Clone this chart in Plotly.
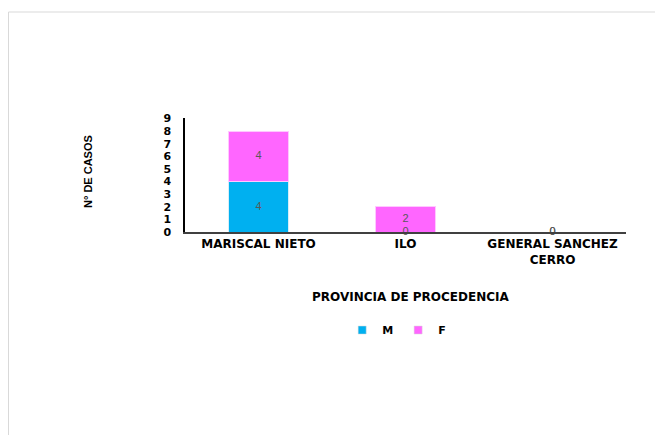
import plotly.graph_objects as go

categories = ["MARISCAL NIETO", "ILO", "GENERAL SANCHEZ CERRO"]
tick_labels = ["MARISCAL NIETO", "ILO", "GENERAL SANCHEZ<br>CERRO"]
series_names = ["M", "F"]
m_values = [4, 0, 0]
f_values = [4, 2, 0]
y_ticks = [0, 1, 2, 3, 4, 5, 6, 7, 8, 9]

M_COLOR = "#00B0F0"
F_COLOR = "#FF66FF"
FONT = "DejaVu Sans"

fig = go.Figure()
fig.add_trace(go.Bar(x=categories, y=m_values, name=series_names[0], showlegend=False,
                     marker=dict(color=M_COLOR, line=dict(color="#d6eef8", width=1))))
fig.add_trace(go.Bar(x=categories, y=f_values, name=series_names[1], showlegend=False,
                     marker=dict(color=F_COLOR, line=dict(color="#ffc8ff", width=1))))

# legend entries with small square swatches
for nm, col in zip(series_names, [M_COLOR, F_COLOR]):
    fig.add_trace(go.Scatter(x=[None], y=[None], mode="markers", name=nm,
                             marker=dict(symbol="square", size=8, color=col,
                                         line=dict(color="#d9d9d9", width=0.5))))

# data labels at segment centres
m_label_y = [v / 2 for v in m_values]
f_label_y = [m + f / 2 for m, f in zip(m_values, f_values)]
fig.add_trace(go.Scatter(x=categories, y=m_label_y, mode="text", text=[str(v) for v in m_values],
                         textfont=dict(color="#595959", size=11, family="Liberation Sans"),
                         showlegend=False, hoverinfo="skip", cliponaxis=False))
fig.add_trace(go.Scatter(x=categories, y=f_label_y, mode="text", text=[str(v) for v in f_values],
                         textfont=dict(color="#595959", size=11, family="Liberation Sans"),
                         showlegend=False, hoverinfo="skip", cliponaxis=False))

fig.update_layout(
    barmode="stack",
    bargap=0.59,
    width=663, height=435,
    margin=dict(l=177, r=45, t=110, b=211),
    paper_bgcolor="white", plot_bgcolor="white",
    font=dict(family=FONT, color="#000000"),
    showlegend=True,
    legend=dict(orientation="h", x=0.48, xanchor="center", y=-0.86, yanchor="middle",
                font=dict(size=11, family=FONT, color="#000000", weight="bold"),
                itemwidth=30, traceorder="normal"),
    xaxis=dict(
        tickmode="array", tickvals=categories, ticktext=tick_labels,
        showline=True, linecolor="#404040", linewidth=1.5,
        showgrid=False, zeroline=False, ticks="",
        tickfont=dict(size=12, family=FONT, color="#000000", weight="bold"),
        range=[-0.5, 2.5],
    ),
    yaxis=dict(
        tickmode="array", tickvals=y_ticks, range=[0, 9.05],
        showline=True, linecolor="#000000", linewidth=1.5,
        showgrid=False, zeroline=False, ticks="",
        ticklabelstandoff=10,
        tickfont=dict(size=11, family=FONT, color="#000000", weight="bold"),
    ),
    annotations=[
        dict(text="N° DE CASOS", xref="paper", yref="paper", x=(88 - 185) / 441, y=(232 - 172) / 114,
             textangle=-90, showarrow=False, xanchor="center", yanchor="middle",
             font=dict(size=11, family="Liberation Sans Narrow, Liberation Sans", color="#000000", weight="bold")),
        dict(text="PROVINCIA DE PROCEDENCIA", xref="paper", yref="paper", x=(410 - 185) / 441, y=(232 - 297) / 114,
             showarrow=False, xanchor="center", yanchor="middle",
             font=dict(size=12, family=FONT, color="#000000", weight="bold")),
    ],
    shapes=[
        dict(type="rect", xref="paper", yref="paper",
             x0=(8.5 - 185) / 441, x1=(700 - 185) / 441,
             y0=(232 - 470) / 114, y1=(232 - 12) / 114,
             line=dict(color="#d9d9d9", width=1), fillcolor="rgba(0,0,0,0)", layer="below"),
    ],
)

fig.write_html("out.html")
